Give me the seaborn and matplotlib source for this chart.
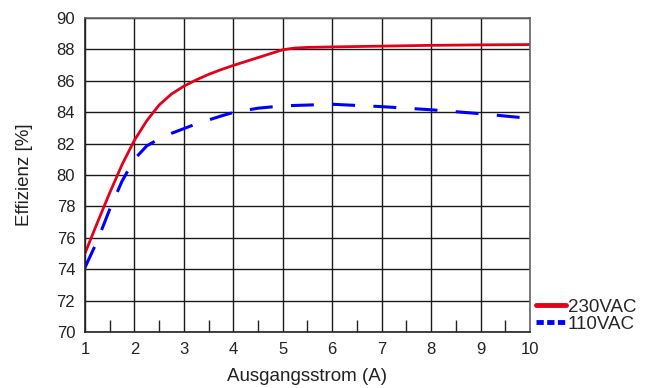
import numpy as np
import pandas as pd
import matplotlib
matplotlib.use("Agg")
import matplotlib.pyplot as plt
from matplotlib.lines import Line2D
from matplotlib.ticker import MultipleLocator
import seaborn as sns

# values
x_230 = [1, 1.25, 1.5, 1.75, 2, 2.25, 2.5, 2.75, 3, 3.25, 3.5, 3.75, 4, 4.25, 4.5, 4.75,
         5, 5.25, 5.5, 6, 7, 8, 9, 10]
eff_230 = [75.0, 76.95, 78.85, 80.65, 82.2, 83.45, 84.45, 85.15, 85.65, 86.05, 86.4, 86.7, 86.97,
           87.22, 87.47, 87.72, 87.97, 88.08, 88.12, 88.15, 88.2, 88.25, 88.28, 88.3]
x_110 = [1, 1.25, 1.5, 1.75, 2, 2.25, 2.5, 2.75, 3, 3.25, 3.5, 3.75, 4, 4.5, 5, 6, 7, 8, 9, 10]
eff_110 = [74.1, 75.8, 77.8, 79.6, 81.0, 81.85, 82.3, 82.65, 82.95, 83.25, 83.5, 83.75, 83.98,
           84.25, 84.4, 84.5, 84.35, 84.15, 83.9, 83.6]
labels = ["230VAC", "110VAC"]

df230 = pd.DataFrame({"I": x_230, "eff": eff_230})
df110 = pd.DataFrame({"I": x_110, "eff": eff_110})

sns.set_style("white")
plt.rcParams["font.family"] = ["Liberation Sans", "DejaVu Sans"]

fig = plt.figure(figsize=(6.48, 3.88), dpi=100)
ax = fig.add_axes([0.131, 0.144, 0.687, 0.81])

sns.lineplot(data=df230, x="I", y="eff", ax=ax, color="#e2001a", lw=2.0)
sns.lineplot(data=df110, x="I", y="eff", ax=ax, color="#0000ff", lw=2.2,
             linestyle=(0, (7.5, 6)))

ax.set_xlim(1, 10)
ax.set_ylim(70, 90)
ax.set_xticks(np.arange(1, 11, 1))
ax.set_yticks(np.arange(70, 91, 2))
ax.xaxis.set_minor_locator(MultipleLocator(0.5))
ax.grid(True, which="major", color="#1a1a1a", lw=1.0)
ax.tick_params(axis="both", which="major", length=0, labelsize=12, colors="#222", pad=7)
ax.tick_params(axis="x", which="minor", direction="in", length=9, width=1, color="#222", bottom=True)
for s in ax.spines.values():
    s.set_color("#666")
    s.set_linewidth(1.2)
ax.spines["left"].set_color("#222")
ax.spines["bottom"].set_color("#222")

ax.set_xlabel("Ausgangsstrom (A)", fontsize=13.5, color="#222", labelpad=8)
ax.set_ylabel("Effizienz [%]", fontsize=13.5, color="#222", labelpad=17)

handles = [Line2D([], [], color="#e2001a", lw=3.5),
           Line2D([], [], color="#0000ff", lw=3.5, linestyle=(0, (1.5, 0.7)))]
ax.legend(handles, labels, loc="lower left", bbox_to_anchor=(1.0, -0.02), frameon=False,
          fontsize=13.5, handlelength=1.6, handletextpad=0.1, labelspacing=0.0,
          borderaxespad=0.2, borderpad=0.1)

fig.savefig("out.png", dpi=100)
